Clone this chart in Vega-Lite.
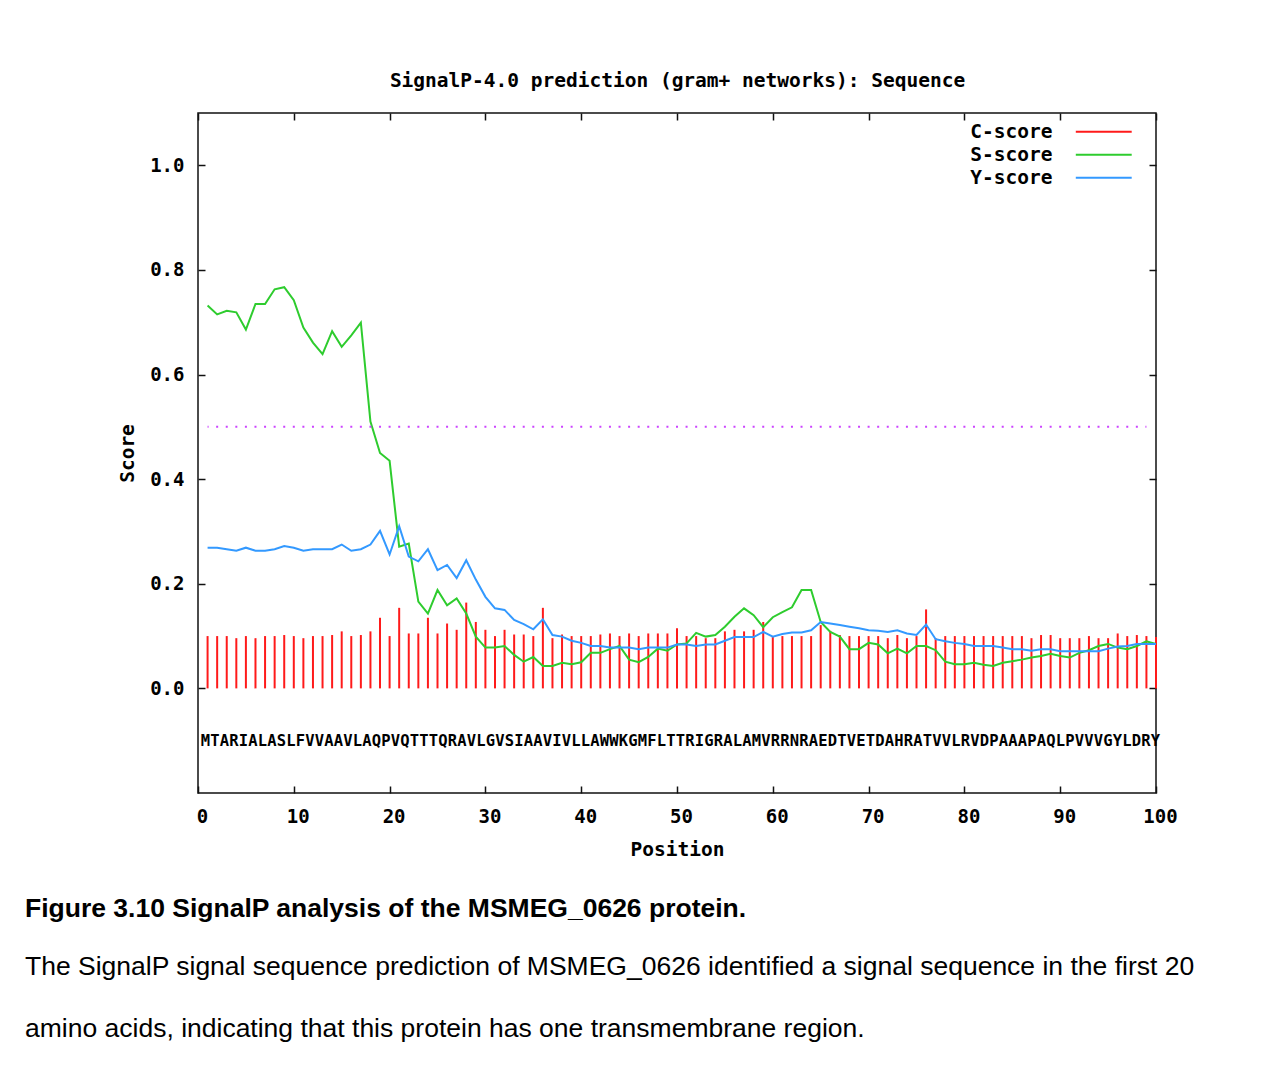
{
  "$schema": "https://vega.github.io/schema/vega-lite/v6.json",
  "width": 958,
  "height": 680,
  "autosize": {"type": "none"},
  "padding": {"left": 198, "top": 113, "right": 120, "bottom": 277},
  "background": "white",
  "config": {
    "view": {"stroke": "#111111", "strokeWidth": 1.5},
    "axis": {
      "labelFont": "DejaVu Sans Mono", "labelFontWeight": "bold", "labelFontSize": 19, "labelColor": "#000000",
      "titleFont": "DejaVu Sans Mono", "titleFontWeight": "bold", "titleFontSize": 19.5, "titleColor": "#000000",
      "domain": false, "grid": false, "tickColor": "#111111", "tickWidth": 1.5, "tickSize": -7, "labelFlush": false
    }
  },
  "title": {
    "text": "Figure 3.10 SignalP analysis of the MSMEG_0626 protein.",
    "subtitle": ["The SignalP signal sequence prediction of MSMEG_0626 identified a signal sequence in the first 20", "amino acids, indicating that this protein has one transmembrane region."],
    "orient": "bottom", "anchor": "start", "frame": "group", "dx": -173, "offset": 37.5,
    "font": "Liberation Sans", "fontSize": 26.5, "fontWeight": "bold", "color": "#000000",
    "subtitleFont": "Liberation Sans", "subtitleFontSize": 26.5, "subtitleColor": "#000000",
    "subtitlePadding": 31.5, "subtitleLineHeight": 62
  },
  "datasets": {
    "scores": [
      {"pos": 1, "aa": "M", "cscore": 0.100, "sscore": 0.732, "yscore": 0.269},
      {"pos": 2, "aa": "T", "cscore": 0.100, "sscore": 0.715, "yscore": 0.269},
      {"pos": 3, "aa": "A", "cscore": 0.100, "sscore": 0.722, "yscore": 0.266},
      {"pos": 4, "aa": "R", "cscore": 0.096, "sscore": 0.719, "yscore": 0.263},
      {"pos": 5, "aa": "I", "cscore": 0.100, "sscore": 0.686, "yscore": 0.269},
      {"pos": 6, "aa": "A", "cscore": 0.096, "sscore": 0.735, "yscore": 0.263},
      {"pos": 7, "aa": "L", "cscore": 0.100, "sscore": 0.735, "yscore": 0.263},
      {"pos": 8, "aa": "A", "cscore": 0.100, "sscore": 0.763, "yscore": 0.266},
      {"pos": 9, "aa": "S", "cscore": 0.102, "sscore": 0.767, "yscore": 0.272},
      {"pos": 10, "aa": "L", "cscore": 0.100, "sscore": 0.742, "yscore": 0.269},
      {"pos": 11, "aa": "F", "cscore": 0.096, "sscore": 0.690, "yscore": 0.263},
      {"pos": 12, "aa": "V", "cscore": 0.100, "sscore": 0.661, "yscore": 0.266},
      {"pos": 13, "aa": "V", "cscore": 0.100, "sscore": 0.639, "yscore": 0.266},
      {"pos": 14, "aa": "A", "cscore": 0.102, "sscore": 0.683, "yscore": 0.266},
      {"pos": 15, "aa": "A", "cscore": 0.109, "sscore": 0.653, "yscore": 0.275},
      {"pos": 16, "aa": "V", "cscore": 0.100, "sscore": 0.675, "yscore": 0.263},
      {"pos": 17, "aa": "L", "cscore": 0.102, "sscore": 0.699, "yscore": 0.266},
      {"pos": 18, "aa": "A", "cscore": 0.109, "sscore": 0.510, "yscore": 0.275},
      {"pos": 19, "aa": "Q", "cscore": 0.135, "sscore": 0.450, "yscore": 0.301},
      {"pos": 20, "aa": "P", "cscore": 0.100, "sscore": 0.435, "yscore": 0.256},
      {"pos": 21, "aa": "V", "cscore": 0.154, "sscore": 0.271, "yscore": 0.310},
      {"pos": 22, "aa": "Q", "cscore": 0.105, "sscore": 0.277, "yscore": 0.252},
      {"pos": 23, "aa": "T", "cscore": 0.105, "sscore": 0.166, "yscore": 0.243},
      {"pos": 24, "aa": "T", "cscore": 0.135, "sscore": 0.143, "yscore": 0.266},
      {"pos": 25, "aa": "T", "cscore": 0.105, "sscore": 0.188, "yscore": 0.226},
      {"pos": 26, "aa": "Q", "cscore": 0.124, "sscore": 0.159, "yscore": 0.236},
      {"pos": 27, "aa": "R", "cscore": 0.112, "sscore": 0.172, "yscore": 0.211},
      {"pos": 28, "aa": "A", "cscore": 0.164, "sscore": 0.143, "yscore": 0.245},
      {"pos": 29, "aa": "V", "cscore": 0.127, "sscore": 0.099, "yscore": 0.208},
      {"pos": 30, "aa": "L", "cscore": 0.112, "sscore": 0.078, "yscore": 0.175},
      {"pos": 31, "aa": "G", "cscore": 0.100, "sscore": 0.078, "yscore": 0.153},
      {"pos": 32, "aa": "V", "cscore": 0.112, "sscore": 0.081, "yscore": 0.150},
      {"pos": 33, "aa": "S", "cscore": 0.103, "sscore": 0.064, "yscore": 0.131},
      {"pos": 34, "aa": "I", "cscore": 0.103, "sscore": 0.051, "yscore": 0.123},
      {"pos": 35, "aa": "A", "cscore": 0.100, "sscore": 0.060, "yscore": 0.113},
      {"pos": 36, "aa": "A", "cscore": 0.154, "sscore": 0.043, "yscore": 0.132},
      {"pos": 37, "aa": "V", "cscore": 0.096, "sscore": 0.043, "yscore": 0.102},
      {"pos": 38, "aa": "I", "cscore": 0.103, "sscore": 0.049, "yscore": 0.099},
      {"pos": 39, "aa": "V", "cscore": 0.100, "sscore": 0.046, "yscore": 0.091},
      {"pos": 40, "aa": "L", "cscore": 0.100, "sscore": 0.050, "yscore": 0.087},
      {"pos": 41, "aa": "L", "cscore": 0.100, "sscore": 0.068, "yscore": 0.081},
      {"pos": 42, "aa": "A", "cscore": 0.103, "sscore": 0.068, "yscore": 0.081},
      {"pos": 43, "aa": "W", "cscore": 0.105, "sscore": 0.075, "yscore": 0.078},
      {"pos": 44, "aa": "W", "cscore": 0.100, "sscore": 0.081, "yscore": 0.078},
      {"pos": 45, "aa": "K", "cscore": 0.105, "sscore": 0.055, "yscore": 0.078},
      {"pos": 46, "aa": "G", "cscore": 0.100, "sscore": 0.050, "yscore": 0.075},
      {"pos": 47, "aa": "M", "cscore": 0.105, "sscore": 0.060, "yscore": 0.078},
      {"pos": 48, "aa": "F", "cscore": 0.105, "sscore": 0.076, "yscore": 0.078},
      {"pos": 49, "aa": "L", "cscore": 0.105, "sscore": 0.072, "yscore": 0.078},
      {"pos": 50, "aa": "T", "cscore": 0.115, "sscore": 0.084, "yscore": 0.084},
      {"pos": 51, "aa": "T", "cscore": 0.100, "sscore": 0.086, "yscore": 0.084},
      {"pos": 52, "aa": "R", "cscore": 0.100, "sscore": 0.106, "yscore": 0.081},
      {"pos": 53, "aa": "I", "cscore": 0.096, "sscore": 0.099, "yscore": 0.084},
      {"pos": 54, "aa": "G", "cscore": 0.096, "sscore": 0.102, "yscore": 0.084},
      {"pos": 55, "aa": "R", "cscore": 0.109, "sscore": 0.118, "yscore": 0.091},
      {"pos": 56, "aa": "A", "cscore": 0.112, "sscore": 0.137, "yscore": 0.098},
      {"pos": 57, "aa": "L", "cscore": 0.109, "sscore": 0.153, "yscore": 0.098},
      {"pos": 58, "aa": "A", "cscore": 0.112, "sscore": 0.140, "yscore": 0.098},
      {"pos": 59, "aa": "M", "cscore": 0.127, "sscore": 0.117, "yscore": 0.108},
      {"pos": 60, "aa": "V", "cscore": 0.100, "sscore": 0.136, "yscore": 0.099},
      {"pos": 61, "aa": "R", "cscore": 0.100, "sscore": 0.146, "yscore": 0.104},
      {"pos": 62, "aa": "R", "cscore": 0.100, "sscore": 0.155, "yscore": 0.107},
      {"pos": 63, "aa": "N", "cscore": 0.100, "sscore": 0.188, "yscore": 0.107},
      {"pos": 64, "aa": "R", "cscore": 0.100, "sscore": 0.188, "yscore": 0.111},
      {"pos": 65, "aa": "A", "cscore": 0.121, "sscore": 0.127, "yscore": 0.127},
      {"pos": 66, "aa": "E", "cscore": 0.110, "sscore": 0.108, "yscore": 0.124},
      {"pos": 67, "aa": "D", "cscore": 0.102, "sscore": 0.099, "yscore": 0.121},
      {"pos": 68, "aa": "T", "cscore": 0.100, "sscore": 0.075, "yscore": 0.118},
      {"pos": 69, "aa": "V", "cscore": 0.100, "sscore": 0.075, "yscore": 0.115},
      {"pos": 70, "aa": "E", "cscore": 0.100, "sscore": 0.087, "yscore": 0.111},
      {"pos": 71, "aa": "T", "cscore": 0.100, "sscore": 0.084, "yscore": 0.110},
      {"pos": 72, "aa": "D", "cscore": 0.096, "sscore": 0.067, "yscore": 0.108},
      {"pos": 73, "aa": "A", "cscore": 0.102, "sscore": 0.076, "yscore": 0.111},
      {"pos": 74, "aa": "H", "cscore": 0.096, "sscore": 0.067, "yscore": 0.105},
      {"pos": 75, "aa": "R", "cscore": 0.100, "sscore": 0.081, "yscore": 0.102},
      {"pos": 76, "aa": "A", "cscore": 0.151, "sscore": 0.081, "yscore": 0.122},
      {"pos": 77, "aa": "T", "cscore": 0.096, "sscore": 0.073, "yscore": 0.094},
      {"pos": 78, "aa": "V", "cscore": 0.100, "sscore": 0.051, "yscore": 0.090},
      {"pos": 79, "aa": "V", "cscore": 0.100, "sscore": 0.046, "yscore": 0.087},
      {"pos": 80, "aa": "L", "cscore": 0.100, "sscore": 0.046, "yscore": 0.085},
      {"pos": 81, "aa": "R", "cscore": 0.100, "sscore": 0.049, "yscore": 0.081},
      {"pos": 82, "aa": "V", "cscore": 0.100, "sscore": 0.045, "yscore": 0.081},
      {"pos": 83, "aa": "D", "cscore": 0.100, "sscore": 0.043, "yscore": 0.081},
      {"pos": 84, "aa": "P", "cscore": 0.100, "sscore": 0.049, "yscore": 0.078},
      {"pos": 85, "aa": "A", "cscore": 0.100, "sscore": 0.052, "yscore": 0.075},
      {"pos": 86, "aa": "A", "cscore": 0.100, "sscore": 0.055, "yscore": 0.075},
      {"pos": 87, "aa": "A", "cscore": 0.096, "sscore": 0.059, "yscore": 0.072},
      {"pos": 88, "aa": "P", "cscore": 0.102, "sscore": 0.062, "yscore": 0.075},
      {"pos": 89, "aa": "A", "cscore": 0.102, "sscore": 0.066, "yscore": 0.075},
      {"pos": 90, "aa": "Q", "cscore": 0.096, "sscore": 0.062, "yscore": 0.071},
      {"pos": 91, "aa": "L", "cscore": 0.096, "sscore": 0.059, "yscore": 0.071},
      {"pos": 92, "aa": "P", "cscore": 0.096, "sscore": 0.068, "yscore": 0.071},
      {"pos": 93, "aa": "V", "cscore": 0.100, "sscore": 0.073, "yscore": 0.071},
      {"pos": 94, "aa": "V", "cscore": 0.096, "sscore": 0.081, "yscore": 0.071},
      {"pos": 95, "aa": "V", "cscore": 0.096, "sscore": 0.085, "yscore": 0.076},
      {"pos": 96, "aa": "G", "cscore": 0.105, "sscore": 0.078, "yscore": 0.080},
      {"pos": 97, "aa": "Y", "cscore": 0.100, "sscore": 0.075, "yscore": 0.081},
      {"pos": 98, "aa": "L", "cscore": 0.102, "sscore": 0.081, "yscore": 0.085},
      {"pos": 99, "aa": "D", "cscore": 0.100, "sscore": 0.090, "yscore": 0.085},
      {"pos": 100, "aa": "R", "cscore": 0.098, "sscore": 0.085, "yscore": 0.085},
      {"pos": 101, "aa": "Y", "cscore": null, "sscore": null, "yscore": null}
    ]
  },
  "layer": [
    {
      "data": {"name": "scores"},
      "mark": {"type": "rule", "strokeWidth": 2},
      "encoding": {
        "x": {"field": "pos", "type": "quantitative", "scale": {"domain": [0, 100], "nice": false, "zero": false},
              "axis": {"orient": "bottom", "values": [0, 10, 20, 30, 40, 50, 60, 70, 80, 90, 100], "title": "Position", "labelPadding": 21, "titlePadding": 14, "labelOffset": 4}},
        "y": {"field": "cscore", "type": "quantitative", "scale": {"domain": [-0.2, 1.1], "nice": false, "zero": false},
              "axis": {"orient": "left", "values": [0, 0.2, 0.4, 0.6, 0.8, 1.0], "format": ".1f", "title": "Score", "labelPadding": 21, "titlePadding": 12}},
        "y2": {"datum": 0},
        "color": {"datum": "C-score", "type": "nominal",
                  "scale": {"domain": ["C-score", "S-score", "Y-score"], "range": ["#ff1a1a", "#2ecc2e", "#3399ff"]},
                  "legend": {"orient": "none", "legendX": 896, "legendY": 9, "title": null, "symbolType": "M-5,0H5", "symbolSize": 125, "symbolStrokeWidth": 1.8,
                             "labelAlign": "right", "labelOffset": -61, "labelFont": "DejaVu Sans Mono", "labelFontWeight": "bold", "labelFontSize": 19.5, "labelColor": "#000000", "rowPadding": 2, "padding": 0}}
      }
    },
    {
      "data": {"name": "scores"},
      "mark": {"type": "line", "strokeWidth": 2},
      "encoding": {
        "x": {"field": "pos", "type": "quantitative", "scale": {"domain": [0, 100], "nice": false, "zero": false},
              "axis": {"orient": "top", "values": [0, 10, 20, 30, 40, 50, 60, 70, 80, 90, 100], "labels": false, "title": "SignalP-4.0 prediction (gram+ networks): Sequence", "titlePadding": 22}},
        "y": {"field": "sscore", "type": "quantitative", "scale": {"domain": [-0.2, 1.1], "nice": false, "zero": false},
              "axis": {"orient": "right", "values": [0, 0.2, 0.4, 0.6, 0.8, 1.0], "labels": false, "title": null}},
        "color": {"datum": "S-score", "type": "nominal", "scale": {"domain": ["C-score", "S-score", "Y-score"], "range": ["#ff1a1a", "#2ecc2e", "#3399ff"]}}
      }
    },
    {
      "data": {"name": "scores"},
      "mark": {"type": "line", "strokeWidth": 2},
      "encoding": {
        "x": {"field": "pos", "type": "quantitative", "scale": {"domain": [0, 100], "nice": false, "zero": false}, "axis": null},
        "y": {"field": "yscore", "type": "quantitative", "scale": {"domain": [-0.2, 1.1], "nice": false, "zero": false}, "axis": null},
        "color": {"datum": "Y-score", "type": "nominal", "scale": {"domain": ["C-score", "S-score", "Y-score"], "range": ["#ff1a1a", "#2ecc2e", "#3399ff"]}}
      }
    },
    {
      "data": {"values": [{"cutoff": 0.5}]},
      "mark": {"type": "rule", "color": "#cc44ff", "strokeWidth": 2, "strokeDash": [2, 7.58], "strokeDashOffset": 1},
      "encoding": {
        "x": {"datum": 1, "type": "quantitative", "scale": {"domain": [0, 100], "nice": false, "zero": false}, "axis": null},
        "x2": {"datum": 99},
        "y": {"field": "cutoff", "type": "quantitative", "scale": {"domain": [-0.2, 1.1], "nice": false, "zero": false}, "axis": null}
      }
    },
    {
      "data": {"name": "scores"},
      "mark": {"type": "text", "font": "DejaVu Sans Mono", "fontWeight": "bold", "fontSize": 15.5, "baseline": "middle", "align": "center", "color": "#000000"},
      "encoding": {
        "x": {"field": "pos", "type": "quantitative", "scale": {"domain": [0.21, 101.05], "nice": false, "zero": false}, "axis": null},
        "y": {"datum": -0.1, "type": "quantitative", "scale": {"domain": [-0.2, 1.1], "nice": false, "zero": false}, "axis": null},
        "text": {"field": "aa"}
      }
    }
  ],
  "resolve": {"scale": {"x": "independent"}, "axis": {"x": "independent", "y": "independent"}}
}
